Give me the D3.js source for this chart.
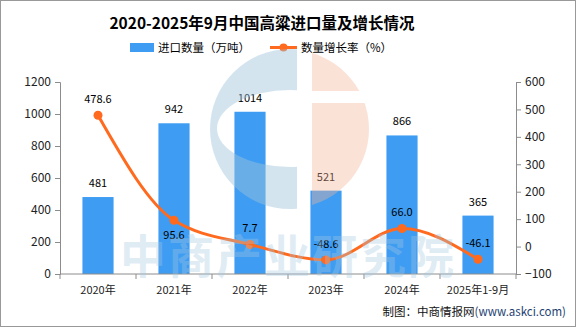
<!DOCTYPE html>
<html>
<head>
<meta charset="utf-8">
<script src="https://cdn.jsdelivr.net/npm/d3@7"></script>
<style>
  body { margin: 0; background: #fff; }
  svg { display: block; }
</style>
</head>
<body>
<div id="chart"></div>
<script>
// data
var years = ["2020年", "2021年", "2022年", "2023年", "2024年", "2025年1-9月"];
var imports = [481, 942, 1014, 521, 866, 365];
var growth = [478.6, 95.6, 7.7, -48.6, 66.0, -46.1];
var leftTicks = [0, 200, 400, 600, 800, 1000, 1200];
var rightTicks = [-100, 0, 100, 200, 300, 400, 500, 600];

var svgWidth = 576;
var svgHeight = 327;
var margin = { top: 82, right: 60, bottom: 53, left: 60 };
var width = svgWidth - margin.left - margin.right;
var height = svgHeight - margin.top - margin.bottom;

var font = "'Noto Sans CJK SC', 'DejaVu Sans', sans-serif";
var barColor = "#3e9df2";
var lineColor = "#ff6a1f";
var axisColor = "#8c8c8c";

var svg = d3.select("#chart")
    .append("svg")
    .attr("width", svgWidth)
    .attr("height", svgHeight)
    .style("font-family", font);

// frame
svg.append("rect")
    .attr("x", 0.5).attr("y", 0.5)
    .attr("width", svgWidth - 1).attr("height", svgHeight - 1)
    .attr("fill", "#fff")
    .attr("stroke", "#999");

// title
svg.append("text")
    .attr("x", 262).attr("y", 29)
    .attr("text-anchor", "middle")
    .style("font-size", "15.5px")
    .style("font-weight", "bold")
    .text("2020-2025年9月中国高粱进口量及增长情况");

// legend
svg.append("rect")
    .attr("x", 130).attr("y", 43).attr("width", 24).attr("height", 9)
    .attr("fill", barColor);
svg.append("text")
    .attr("x", 158).attr("y", 51.5)
    .style("font-size", "11.5px")
    .text("进口数量（万吨）");
svg.append("line")
    .attr("x1", 270).attr("x2", 297).attr("y1", 47.5).attr("y2", 47.5)
    .attr("stroke", lineColor).attr("stroke-width", 3);
svg.append("circle")
    .attr("cx", 283.5).attr("cy", 47.5).attr("r", 4)
    .attr("fill", lineColor);
svg.append("text")
    .attr("x", 301).attr("y", 51.5)
    .style("font-size", "11.5px")
    .text("数量增长率（%）");

var chart = svg.append("g")
    .attr("transform", `translate(${margin.left}, ${margin.top})`);

// scales
var xscale = d3.scaleBand()
    .domain(years)
    .range([0, width])
    .paddingInner(0.59)
    .paddingOuter(0.295);

var xband = d3.scaleBand()
    .domain(years)
    .range([0, width]);

var yleft = d3.scaleLinear()
    .domain([0, 1200])
    .range([height, 0]);

var yright = d3.scaleLinear()
    .domain([-100, 600])
    .range([height, 0]);

// bars
chart.selectAll(".bar")
    .data(imports)
    .enter()
    .append("rect")
    .attr("class", "bar")
    .attr("x", (d, i) => xscale(years[i]))
    .attr("y", d => yleft(d))
    .attr("width", xscale.bandwidth())
    .attr("height", d => height - yleft(d))
    .attr("fill", barColor);

chart.selectAll(".barLabel")
    .data(imports)
    .enter()
    .append("text")
    .attr("class", "barLabel")
    .attr("x", (d, i) => xband(years[i]) + xband.bandwidth() / 2)
    .attr("y", d => yleft(d) - 10)
    .attr("text-anchor", "middle")
    .style("font-size", "11px")
    .text(d => d);

// line
var line = d3.line()
    .x((d, i) => xband(years[i]) + xband.bandwidth() / 2)
    .y(d => yright(d))
    .curve(d3.curveMonotoneX);

chart.append("path")
    .datum(growth)
    .attr("d", line)
    .attr("fill", "none")
    .attr("stroke", lineColor)
    .attr("stroke-width", 3);

chart.selectAll(".dot")
    .data(growth)
    .enter()
    .append("circle")
    .attr("class", "dot")
    .attr("cx", (d, i) => xband(years[i]) + xband.bandwidth() / 2)
    .attr("cy", d => yright(d))
    .attr("r", 4.5)
    .attr("fill", lineColor);

chart.selectAll(".lineLabel")
    .data(growth)
    .enter()
    .append("text")
    .attr("class", "lineLabel")
    .attr("x", (d, i) => xband(years[i]) + xband.bandwidth() / 2)
    .attr("y", (d, i) => i === 1 ? yright(d) + 19 : yright(d) - 12)
    .attr("text-anchor", "middle")
    .style("font-size", "11px")
    .text(d => d.toFixed(1));

// axes
var leftAxis = d3.axisLeft(yleft).tickValues(leftTicks).tickFormat(d3.format("d")).tickSize(5).tickPadding(4);
var rightAxis = d3.axisRight(yright).tickValues(rightTicks).tickFormat(d3.format("d")).tickSize(5).tickPadding(4);
var bottomAxis = d3.axisBottom(xband).tickSize(0).tickPadding(12);

function styleAxis(g) {
    g.selectAll("path, line").attr("stroke", axisColor);
    g.selectAll("text").style("font-size", "12px").style("font-family", font).attr("fill", "#222");
}

chart.append("g").call(leftAxis).call(styleAxis);
chart.append("g").attr("transform", `translate(${width}, 0)`).call(rightAxis).call(styleAxis);
var bx = chart.append("g").attr("transform", `translate(0, ${height})`).call(bottomAxis).call(styleAxis);
bx.select(".domain").attr("d", `M0,0H${width}`);
bx.selectAll("text").style("font-size", "11px");
bx.selectAll(".sep")
    .data(years)
    .enter()
    .append("line")
    .attr("class", "sep")
    .attr("x1", d => xband(d))
    .attr("x2", d => xband(d))
    .attr("y1", 0).attr("y2", 5)
    .attr("stroke", axisColor);
bx.append("line")
    .attr("x1", width).attr("x2", width).attr("y1", 0).attr("y2", 5)
    .attr("stroke", axisColor);

// watermark
var wm = svg.append("g").attr("pointer-events", "none");
var defs = svg.append("defs");
defs.append("clipPath").attr("id", "clipBlue")
    .append("rect").attr("x", 200).attr("y", 40).attr("width", 97).attr("height", 180);
var blueMask = defs.append("mask").attr("id", "maskBlue");
blueMask.append("rect").attr("x", 0).attr("y", 0).attr("width", svgWidth).attr("height", svgHeight).attr("fill", "#fff");
blueMask.append("ellipse").attr("cx", 290).attr("cy", 128.5).attr("rx", 73).attr("ry", 38.5).attr("fill", "#000");
defs.append("clipPath").attr("id", "clipOrange")
    .append("path").attr("d", "M312,40H380V91H312Z M312,103H380V220H312Z");

wm.append("circle")
    .attr("cx", 290).attr("cy", 129).attr("r", 80)
    .attr("fill", "rgba(160,196,220,0.45)")
    .attr("clip-path", "url(#clipBlue)")
    .attr("mask", "url(#maskBlue)");
wm.append("circle")
    .attr("cx", 290).attr("cy", 129).attr("r", 79)
    .attr("fill", "rgba(244,180,150,0.38)")
    .attr("clip-path", "url(#clipOrange)");
wm.append("text")
    .attr("x", 288).attr("y", 273)
    .attr("text-anchor", "middle")
    .style("font-size", "46px")
    .style("font-weight", "bold")
    .style("letter-spacing", "2px")
    .attr("fill", "rgba(165,200,225,0.35)")
    .text("中商产业研究院");

// source
var src = svg.append("text")
    .attr("x", 566).attr("y", 316)
    .attr("text-anchor", "end")
    .style("font-size", "11.5px");
src.append("tspan").attr("fill", "#111").text("制图：中商情报网");
src.append("tspan").attr("fill", "#1f3f73").text("(www.askci.com)");
</script>
</body>
</html>
